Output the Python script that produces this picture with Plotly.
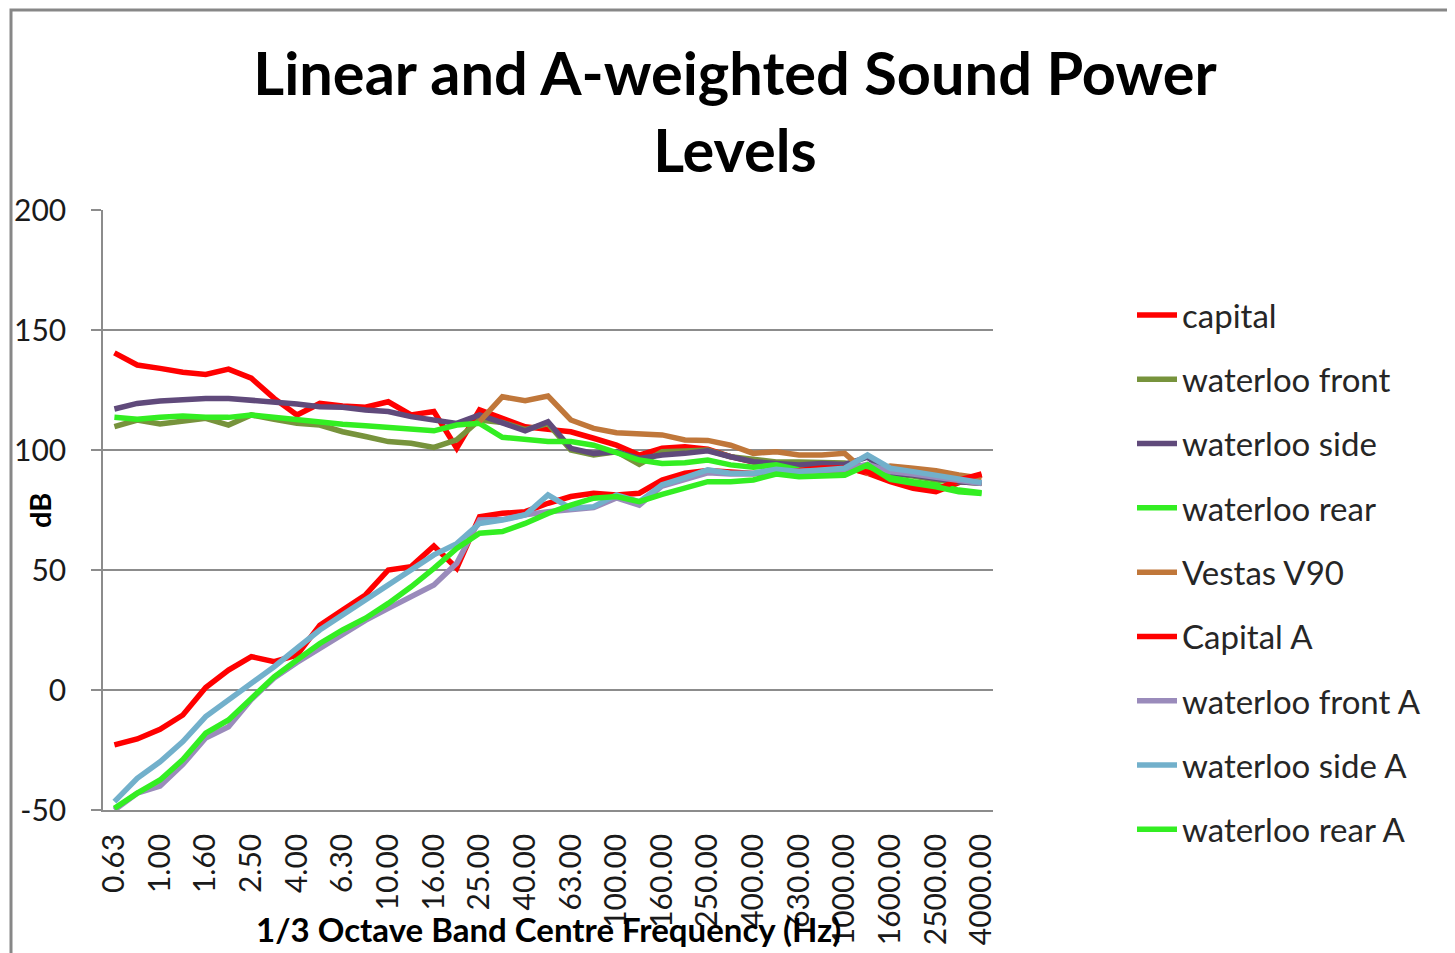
import plotly.graph_objects as go

freqs = ["0.63", "0.80", "1.00", "1.25", "1.60", "2.00", "2.50", "3.15", "4.00", "5.00",
         "6.30", "8.00", "10.00", "12.50", "16.00", "20.00", "25.00", "31.50", "40.00", "50.00",
         "63.00", "80.00", "100.00", "125.00", "160.00", "200.00", "250.00", "315.00", "400.00", "500.00",
         "630.00", "800.00", "1000.00", "1250.00", "1600.00", "2000.00", "2500.00", "3150.00", "4000.00"]

tick_labels = freqs[::2]
y_tick_values = [-50, 0, 50, 100, 150, 200]
y_tick_labels = ["-50", "0", "50", "100", "150", "200"]

capital = [140.5, 135.4, 134.0, 132.4, 131.5, 133.7, 129.9, 121.5, 114.6, 119.4,
           118.3, 117.8, 120.1, 114.6, 116.0, 100.7, 116.7, 113.2, 109.7, 108.6,
           107.6, 104.9, 102.0, 97.9, 100.7, 101.4, 100.3, 97.2, 95.0, 94.4,
           93.8, 93.5, 93.0, 90.3, 86.8, 84.0, 82.6, 86.4, 89.6]

waterloo_front = [109.7, 112.5, 110.8, 111.8, 113.2, 110.4, 114.6, 112.8, 111.1, 110.4,
                  107.6, 105.6, 103.5, 102.8, 101.1, 104.2, 112.5, 111.5, 108.5, 111.0,
                  100.0, 97.9, 99.3, 94.0, 99.3, 99.6, 100.0, 97.2, 96.0, 95.0,
                  95.0, 94.6, 94.6, 93.0, 90.3, 89.2, 87.5, 86.8, 86.1]

waterloo_side = [117.1, 119.4, 120.4, 121.1, 121.5, 121.5, 120.8, 120.1, 119.2, 118.0,
                 117.8, 116.7, 116.0, 113.9, 112.5, 111.1, 114.6, 111.1, 108.0, 111.8,
                 100.7, 98.6, 99.3, 96.5, 97.9, 98.6, 99.7, 97.2, 95.1, 94.4,
                 93.8, 94.4, 94.0, 97.0, 90.3, 89.6, 88.2, 86.8, 86.1]

waterloo_rear = [113.6, 112.8, 113.6, 114.2, 113.6, 113.6, 114.6, 113.6, 112.5, 111.4,
                 110.7, 110.1, 109.4, 108.8, 108.0, 110.4, 111.1, 105.3, 104.4, 103.5,
                 103.5, 102.0, 98.9, 95.8, 94.4, 94.7, 95.8, 93.8, 92.8, 93.8,
                 91.7, 91.0, 90.5, 93.0, 88.5, 86.8, 85.4, 83.3, 82.2]

vestas_v90 = [None, None, None, None, None, None, None, None, None, None,
              None, None, None, None, None, None, 111.8, 122.2, 120.5, 122.5,
              112.5, 109.0, 107.2, 106.7, 106.3, 104.2, 104.0, 102.0, 98.6, 99.3,
              97.9, 97.9, 98.6, 90.3, 93.3, 92.4, 91.4, 89.6, 88.2]

capital_a = [-22.9, -20.4, -16.4, -10.4, 1.0, 8.3, 13.9, 11.8, 14.5, 27.0,
             33.3, 39.6, 50.0, 51.4, 60.0, 50.7, 72.2, 73.6, 74.3, 77.8,
             80.6, 82.0, 81.3, 82.0, 87.5, 90.3, 91.5, 90.6, 90.2, 91.2,
             91.5, 92.5, 92.5, 90.8, 87.5, 85.0, 83.5, 87.5, 90.0]

waterloo_front_a = [-50.0, -43.0, -40.0, -31.0, -20.0, -15.3, -4.0, 5.0, 11.5, 17.5,
                    23.6, 29.0, 34.0, 38.9, 43.8, 52.8, 70.8, 71.0, 73.0, 74.3,
                    75.0, 76.0, 80.0, 77.0, 85.0, 88.0, 90.5, 90.0, 90.0, 91.5,
                    91.0, 91.5, 92.0, 94.0, 91.0, 90.0, 88.5, 87.5, 86.0]

waterloo_side_a = [-46.5, -36.8, -29.9, -21.5, -11.1, -4.2, 2.8, 9.7, 17.4, 25.0,
                   31.3, 37.5, 43.8, 50.0, 56.3, 61.0, 69.4, 70.8, 72.9, 81.3,
                   75.7, 76.4, 81.3, 78.5, 85.5, 88.5, 91.7, 90.3, 90.3, 92.0,
                   91.0, 91.7, 92.4, 97.9, 92.4, 91.0, 89.6, 88.2, 86.4]

waterloo_rear_a = [-49.3, -43.0, -37.5, -29.0, -18.0, -12.5, -3.5, 5.5, 12.5, 19.4,
                   25.0, 29.9, 36.1, 43.0, 50.7, 59.0, 65.3, 66.0, 69.4, 73.6,
                   77.0, 79.9, 80.6, 78.5, 81.5, 84.0, 86.8, 86.8, 87.5, 90.0,
                   88.9, 89.2, 89.5, 93.8, 87.8, 86.1, 84.7, 82.6, 81.9]

series = [
    ("capital", capital, "#FF0000"),
    ("waterloo front", waterloo_front, "#77933C"),
    ("waterloo side", waterloo_side, "#604A7B"),
    ("waterloo rear", waterloo_rear, "#33EE22"),
    ("Vestas V90", vestas_v90, "#C0773A"),
    ("Capital A", capital_a, "#FF0000"),
    ("waterloo front A", waterloo_front_a, "#9A8BBB"),
    ("waterloo side A", waterloo_side_a, "#72B0CB"),
    ("waterloo rear A", waterloo_rear_a, "#33EE22"),
]

FONT = "Lato"
OFF = 8                      # page offset of the figure (body margin)
W, H = 1455 - OFF, 953 - OFF
# plot area, in page pixels
PL, PR, PT, PB = 103, 993, 210, 810
L, R, T, B = PL - OFF, PR - OFF, PT - OFF, PB - OFF


def px(xp):
    """page x pixel -> paper fraction"""
    return (xp - PL) / (PR - PL)


def py(yp):
    """page y pixel -> paper fraction"""
    return (PB - yp) / (PB - PT)


fig = go.Figure()
for i, (name, vals, color) in enumerate(series):
    fig.add_trace(go.Scatter(
        x=freqs, y=vals, name=name, mode="lines",
        line=dict(color=color, width=5.5),
        legendgroup=f"g{i}",
        connectgaps=False,
    ))

grid = "#8C8C8C"
fig.update_layout(
    width=W, height=H,
    margin=dict(l=L, r=W - R, t=T, b=H - B, autoexpand=False),
    paper_bgcolor="white", plot_bgcolor="white",
    font=dict(family=FONT, color="#1A1A1A", size=29),
    title=dict(
        text="<b>Linear and A-weighted Sound Power<br>Levels</b>",
        x=(735 - OFF) / W, xref="container", xanchor="center",
        y=1 - 87 / H, yref="container", yanchor="top",
        font=dict(family=FONT, size=59.5, color="black"),
    ),
    showlegend=True,
    legend=dict(
        x=px(1132), xanchor="left", y=py(287), yanchor="top",
        font=dict(family=FONT, size=33, color="#262626"),
        tracegroupgap=18.4, bgcolor="rgba(0,0,0,0)",
        itemwidth=40,
    ),
    xaxis=dict(
        type="category", categoryorder="array", categoryarray=freqs,
        tickmode="array", tickvals=tick_labels, ticktext=tick_labels,
        tickangle=-90, tickfont=dict(family=FONT, size=30, color="#1A1A1A"),
        showgrid=False, showline=True, linecolor=grid, linewidth=1.5,
        ticks="", ticklabelstandoff=10, range=[-0.5, len(freqs) - 0.5],
        automargin=False,
    ),
    yaxis=dict(
        range=[-50, 200], tickmode="array", tickvals=y_tick_values, ticktext=y_tick_labels,
        showgrid=True, gridcolor=grid, gridwidth=1.5,
        zeroline=False, showline=True, linecolor=grid, linewidth=1.5,
        ticks="outside", ticklen=10, tickcolor=grid, tickwidth=1.5,
        tickfont=dict(family=FONT, size=30, color="#1A1A1A"),
        ticklabelstandoff=19, automargin=False,
    ),
    shapes=[dict(
        type="rect", xref="paper", yref="paper",
        x0=px(11), x1=px(1475), y0=py(975), y1=py(10),
        line=dict(color="#878787", width=3), fillcolor="rgba(0,0,0,0)", layer="below",
    )],
    annotations=[
        dict(text="<b>1/3 Octave Band Centre Frequency (Hz)</b>", xref="paper", yref="paper",
             x=px(548), y=py(929), xanchor="center", yanchor="middle", showarrow=False,
             font=dict(family=FONT, size=33, color="black")),
        dict(text="<b>dB</b>", xref="paper", yref="paper", textangle=-90,
             x=px(39), y=py(511), xanchor="center", yanchor="middle", showarrow=False,
             font=dict(family=FONT, size=29, color="black")),
    ],
)

fig.write_html("out.html")
